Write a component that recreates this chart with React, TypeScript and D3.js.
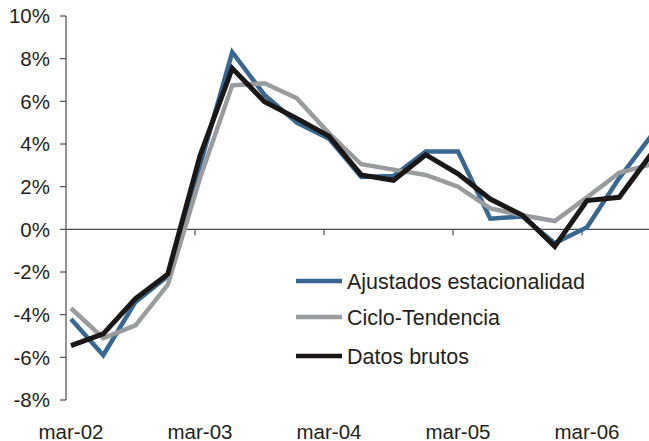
import React from "react";
import * as d3 from "d3";

const quarters = ["mar-02","jun-02","sep-02","dic-02","mar-03","jun-03","sep-03","dic-03","mar-04","jun-04","sep-04","dic-04","mar-05","jun-05","sep-05","dic-05","mar-06","jun-06","sep-06"];
const ajustados = [-4.2,-5.9,-3.4,-2.2,3.0,8.3,6.3,5.0,4.25,2.45,2.5,3.65,3.65,0.5,0.6,-0.65,0.1,2.4,4.4];
const ciclo = [-3.7,-5.1,-4.5,-2.6,2.4,6.75,6.85,6.15,4.5,3.05,2.8,2.55,2.0,0.98,0.66,0.39,1.5,2.65,3.05];
const brutos = [-5.45,-4.9,-3.25,-2.1,3.45,7.55,5.98,5.2,4.37,2.55,2.3,3.5,2.6,1.42,0.66,-0.8,1.35,1.5,3.55];
const yTicks = [-8,-6,-4,-2,0,2,4,6,8,10];
const xLabelIdx = [0,4,8,12,16];

const series = [
  { name: "Ajustados estacionalidad", values: ajustados, color: "#386792", width: 4.5 },
  { name: "Ciclo-Tendencia", values: ciclo, color: "#999c9f", width: 4.5 },
  { name: "Datos brutos", values: brutos, color: "#1b1717", width: 5 },
];

export default function App() {
  const W = 649, H = 441;
  const x = d3.scaleLinear().domain([0, 18]).range([71, 651.5]);
  const y = d3.scaleLinear().domain([-8, 10]).range([400, 16]);
  const axisX = 66;
  const line = (vals: number[]) =>
    d3.line<number>().x((_, i) => x(i)).y((d) => y(d))(vals) || "";
  const font = "'Liberation Sans', Arial, Helvetica, sans-serif";
  const legendY = [281, 317, 356];
  return (
    <svg width={W} height={H} style={{ position: "absolute", left: 0, top: 0, background: "#fff" }} fontFamily={font}>
      {/* y axis */}
      <line x1={axisX} x2={axisX} y1={y(10)} y2={y(-8)} stroke="#4d4d4d" strokeWidth={1.2} />
      {yTicks.map((t) => (
        <g key={t}>
          <line x1={axisX - 6} x2={axisX} y1={y(t)} y2={y(t)} stroke="#4d4d4d" strokeWidth={1.2} />
          <text x={50} y={y(t)} dy="0.36em" textAnchor="end" fontSize={20.5} fill="#231f20">{t}%</text>
        </g>
      ))}
      {/* zero line */}
      <line x1={axisX} x2={W} y1={y(0)} y2={y(0)} stroke="#4d4d4d" strokeWidth={1.2} />
      {xLabelIdx.slice(1).map((i) => (
        <line key={i} x1={x(i) - 5} x2={x(i) - 5} y1={y(0)} y2={y(0) + 6} stroke="#4d4d4d" strokeWidth={1.2} />
      ))}
      {xLabelIdx.map((i) => (
        <text key={i} x={x(i)} y={439} textAnchor="middle" fontSize={20.5} fill="#231f20">{quarters[i]}</text>
      ))}
      {series.map((s) => (
        <path key={s.name} d={line(s.values)} fill="none" stroke={s.color} strokeWidth={s.width} strokeLinejoin="miter" strokeMiterlimit={3} />
      ))}
      {series.map((s, k) => (
        <g key={s.name}>
          <line x1={296} x2={342} y1={legendY[k]} y2={legendY[k]} stroke={s.color} strokeWidth={4.5} />
          <text x={347} y={legendY[k]} dy="0.36em" fontSize={21.5} fill="#231f20">{s.name}</text>
        </g>
      ))}
    </svg>
  );
}
